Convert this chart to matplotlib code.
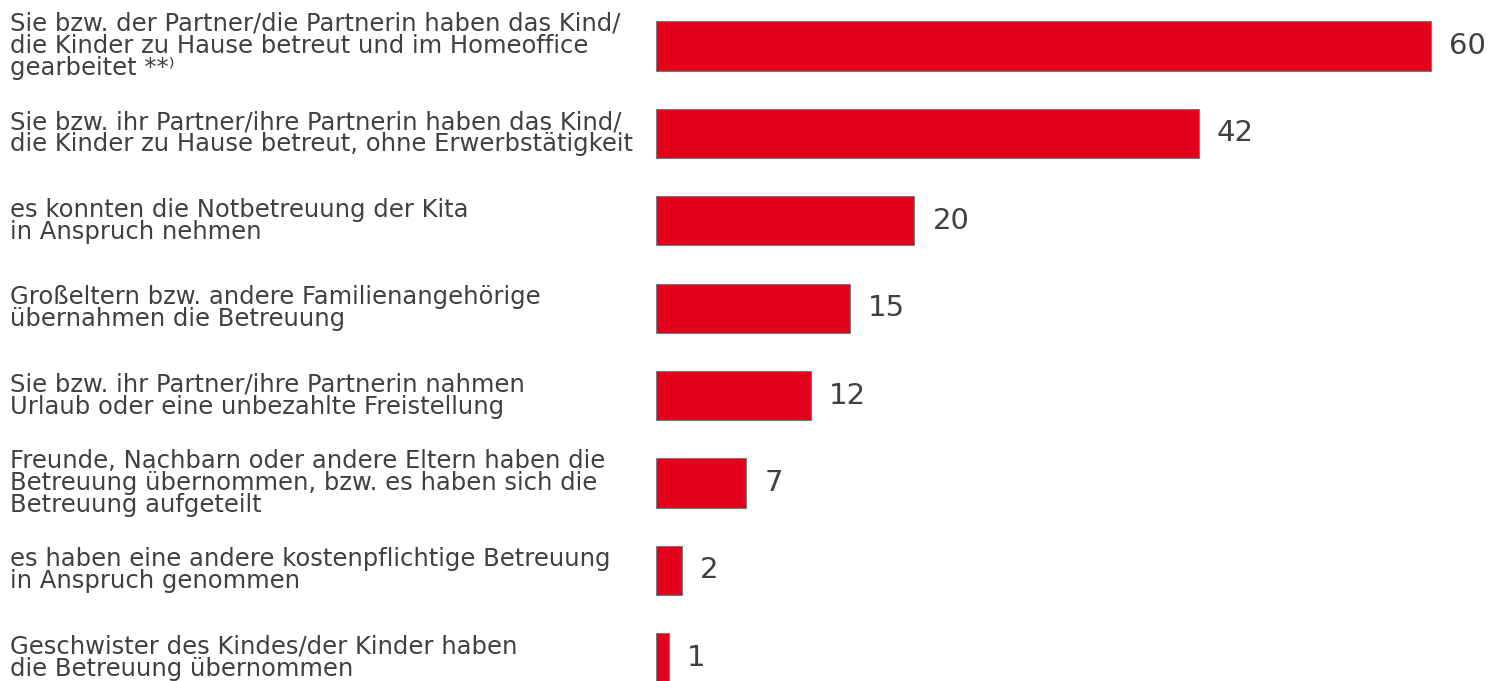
import matplotlib
matplotlib.use("Agg")
import matplotlib.pyplot as plt

# Daten
kategorien = [
    "Sie bzw. der Partner/die Partnerin haben das Kind/\ndie Kinder zu Hause betreut und im Homeoffice\ngearbeitet **\u207e",
    "Sie bzw. ihr Partner/ihre Partnerin haben das Kind/\ndie Kinder zu Hause betreut, ohne Erwerbstätigkeit",
    "es konnten die Notbetreuung der Kita\nin Anspruch nehmen",
    "Großeltern bzw. andere Familienangehörige\nübernahmen die Betreuung",
    "Sie bzw. ihr Partner/ihre Partnerin nahmen\nUrlaub oder eine unbezahlte Freistellung",
    "Freunde, Nachbarn oder andere Eltern haben die\nBetreuung übernommen, bzw. es haben sich die\nBetreuung aufgeteilt",
    "es haben eine andere kostenpflichtige Betreuung\nin Anspruch genommen",
    "Geschwister des Kindes/der Kinder haben\ndie Betreuung übernommen",
]
werte = [60, 42, 20, 15, 12, 7, 2, 1]

rot = "#E2001A"
textfarbe = "#404040"

fig = plt.figure(figsize=(14.89, 6.81), dpi=100)
ax = fig.add_axes([656 / 1489, 0, 1 - 656 / 1489, 1])

pos = list(range(len(werte)))
ax.barh(pos, werte, height=0.565, color=rot, edgecolor="#7a7a7a", linewidth=0.8)

ax.set_xlim(0, 833 / 12.92)
ax.set_ylim(7.265, -0.526)
ax.axis("off")

# Werte rechts neben den Balken
for p, w in zip(pos, werte):
    ax.annotate(str(w), (w, p), xytext=(18, 0), textcoords="offset pixels",
                va="center", ha="left", fontsize=21, color=textfarbe)

# Beschriftungen links
for p, k in zip(pos, kategorien):
    ax.annotate(k, (0, p), xycoords=("figure pixels", "data"), xytext=(10, 0),
                textcoords="offset pixels", va="center", ha="left",
                fontsize=17.5, color=textfarbe, linespacing=0.9)

fig.savefig("out.png", dpi=100)
